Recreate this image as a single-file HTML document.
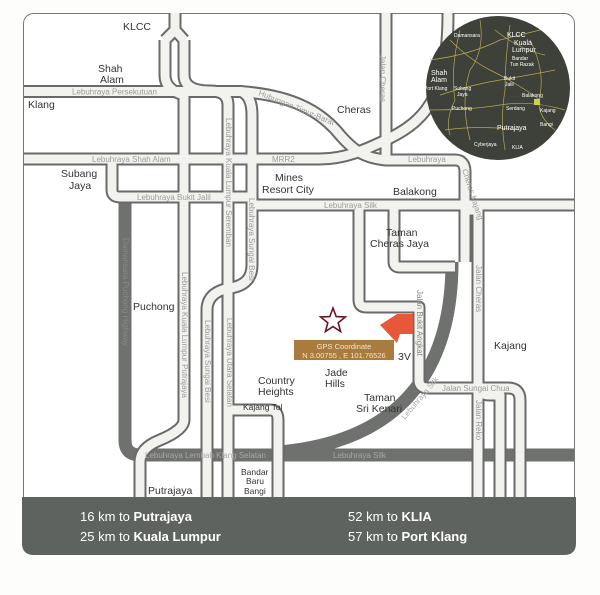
<!DOCTYPE html>
<html><head><meta charset="utf-8"><style>
html,body{margin:0;padding:0;background:#fff;}
svg{display:block;font-family:"Liberation Sans",sans-serif;}
</style></head><body>
<svg width="600" height="595" viewBox="0 0 600 595" xmlns="http://www.w3.org/2000/svg">
<rect x="0" y="0" width="600" height="595" fill="#fdfdfb"/>
<rect x="23.5" y="13.5" width="551" height="500" rx="10" fill="#fff" stroke="#777" stroke-width="1"/>

<!-- dark roads -->
<g fill="none" stroke="#6e716d" stroke-width="13">
<path d="M125,200 V440 Q125,455 140,455 H574"/>
<path d="M452,262 C452,360 410,440 280,452"/>
</g>

<!-- light roads: outline -->
<g id="roads" fill="none" stroke-linejoin="round">
<g stroke="#6a6a6a" stroke-width="13">
<path id="r1" d="M24,91.5 H240 C290,95 320,110 340,135 C355,152 365,158 386,160 H455 Q465,160 465,172 V262"/>
<path d="M24,159 H320 C345,159 365,150 390,138 C430,118 448,90 448,13"/>
<path d="M24,159 H320"/>
<path d="M112,159 V190 Q112,197 120,197 H256"/>
<path d="M248,205 H574"/>
<path d="M386,13 V160"/>
<path d="M175,13 V30 M165,40 V75 Q165,90 184,95 M184,40 V75 Q184,91 210,91 Q228,91 228,105 V497"/>
<path d="M175,30 L165,40 M175,30 L184,40"/>
<path d="M184,95 V420 Q184,430 160,440 Q140,448 140,462 V497"/>
<path d="M240,91 Q252,95 252,115 V265 Q252,285 230,288 Q207,292 207,310 V497"/>
<path d="M228,410 H270 Q278,410 278,420 V497"/>
<path d="M359,205 V300 Q359,307 366,307 H419 V380 Q419,388 428,388 H508 Q520,388 520,400 V497"/>
<path d="M394,205 V262 Q394,267 400,267 H455"/>
<path d="M465,215 Q465,210 471,210 H478 V497"/>
<path d="M478,300 V385 Q478,395 490,395 H500 V497"/>
</g>
<g stroke="#f2f2ee" stroke-width="9">
<path d="M24,91.5 H240 C290,95 320,110 340,135 C355,152 365,158 386,160 H455 Q465,160 465,172 V262"/>
<path d="M24,159 H320 C345,159 365,150 390,138 C430,118 448,90 448,13"/>
<path d="M112,159 V190 Q112,197 120,197 H256"/>
<path d="M248,205 H574"/>
<path d="M386,13 V160"/>
<path d="M175,13 V30 M165,40 V75 Q165,90 184,95 M184,40 V75 Q184,91 210,91 Q228,91 228,105 V497"/>
<path d="M175,30 L165,40 M175,30 L184,40"/>
<path d="M184,95 V420 Q184,430 160,440 Q140,448 140,462 V497"/>
<path d="M240,91 Q252,95 252,115 V265 Q252,285 230,288 Q207,292 207,310 V497"/>
<path d="M228,410 H270 Q278,410 278,420 V497"/>
<path d="M359,205 V300 Q359,307 366,307 H419 V380 Q419,388 428,388 H508 Q520,388 520,400 V497"/>
<path d="M394,205 V262 Q394,267 400,267 H455"/>
<path d="M465,215 Q465,210 471,210 H478 V497"/>
<path d="M478,300 V385 Q478,395 490,395 H500 V497"/>
</g>
</g>

<!-- road labels -->
<g fill="#9a9a9a" font-size="8">
<text x="72" y="94.5">Lebuhraya Persekutuan</text>
<text x="92" y="162">Lebuhraya Shah Alam</text>
<text x="272" y="162">MRR2</text>
<text x="137" y="200">Lebuhraya Bukit Jalil</text>
<text x="324" y="208">Lebuhraya Silk</text>
<text x="408" y="162">Lebuhraya</text>
<text x="258" y="95" transform="rotate(22 258 95)">Hubungan Timur-Barat</text>
<text x="380" y="55" transform="rotate(90 380 55)">Jalan Cheras</text>
<text x="462" y="170" transform="rotate(72 462 170)">Cheras Kajang</text>
<text x="226" y="118" transform="rotate(90 226 118)">Lebuhraya Kuala Lumpur Seremban</text>
<text x="249" y="198" transform="rotate(90 249 198)">Lebuhraya Sungai Besi</text>
<text x="182" y="272" transform="rotate(90 182 272)">Lebuhraya Kuala Lumpur Putrajaya</text>
<text x="205" y="320" transform="rotate(90 205 320)">Lebuhraya Sungai Besi</text>
<text x="227" y="318" transform="rotate(90 227 318)">Lebuhraya Utara Selatan</text>
<text x="123" y="238" transform="rotate(90 123 238)" fill="#8a8a8a">Damansara Puchong Highway</text>
<text x="417" y="290" transform="rotate(90 417 290)" fill="#888">Jalan Bukit Angkat</text>
<text x="476" y="265" transform="rotate(90 476 265)">Jalan Cheras</text>
<text x="476" y="400" transform="rotate(90 476 400)">Jalan Reko</text>
<text x="442" y="391">Jalan Sungai Chua</text>
<text x="145" y="458" fill="#a8a8a8">Lebuhraya Lembah Klang Selatan</text>
<text x="333" y="458" fill="#a8a8a8">Lebuhraya Silk</text>
<text x="405" y="420" transform="rotate(-50 405 420)" fill="#aaa">Lebuhraya Silk</text>
</g>

<!-- place labels -->
<g fill="#333" font-size="10.5">
<text x="123" y="30">KLCC</text>
<text x="98" y="72">Shah</text><text x="100" y="83">Alam</text>
<text x="28" y="108">Klang</text>
<text x="337" y="113">Cheras</text>
<text x="61" y="177">Subang</text><text x="69" y="189">Jaya</text>
<text x="275" y="181">Mines</text><text x="262" y="193">Resort City</text>
<text x="393" y="195">Balakong</text>
<text x="386" y="236">Taman</text><text x="370" y="247">Cheras Jaya</text>
<text x="133" y="310">Puchong</text>
<text x="494" y="349">Kajang</text>
<text x="398" y="360">3V</text>
<text x="325" y="376">Jade</text><text x="325" y="387">Hills</text>
<text x="258" y="384">Country</text><text x="258" y="395">Heights</text>
<text x="364" y="401">Taman</text><text x="356" y="412">Sri Kenari</text>
<text x="148" y="494">Putrajaya</text>
</g>
<g fill="#333" font-size="8.5">
<text x="243" y="410">Kajang Tol</text>
<text x="241" y="475">Bandar</text><text x="246" y="484">Baru</text><text x="244" y="494">Bangi</text>
</g>

<!-- star, arrow, GPS -->
<polygon points="333,308 336.2,316.6 345.4,317 338.2,322.8 340.6,331.6 333,326.6 325.4,331.6 327.8,322.8 320.6,317 329.8,316.6" fill="none" stroke="#6a1424" stroke-width="1.6"/>
<polygon points="380,325 397,314 413,314 413,334 400,334 397,343" fill="#e8573a"/>
<rect x="294" y="340" width="100" height="20" fill="#a97c3e"/>
<text x="344" y="349" fill="#f1e4cf" font-size="7.5" text-anchor="middle">GPS Coordinate</text>
<text x="344" y="358" fill="#f1e4cf" font-size="7.5" text-anchor="middle">N 3.00755 , E 101.76526</text>

<!-- inset circle -->
<ellipse cx="498" cy="88" rx="72" ry="72" fill="#3e4139"/>
<g fill="none" stroke="#b8a850" stroke-width="0.7">
<path d="M430,60 Q470,55 500,40 Q520,35 540,30"/>
<path d="M440,95 Q470,85 500,80 Q530,75 555,70"/>
<path d="M480,20 Q485,50 470,70 Q460,100 470,140"/>
<path d="M510,25 Q505,60 505,90 Q500,120 505,150"/>
<path d="M430,110 Q470,110 500,105 Q530,100 565,110"/>
<path d="M450,40 Q470,60 490,70 Q520,85 540,100"/>
<path d="M530,40 Q545,70 540,95 Q535,115 555,130"/>
<path d="M445,130 Q480,125 520,130"/>
<path d="M460,30 Q450,70 455,100 Q445,120 450,135"/>
<path d="M495,30 Q520,50 545,55"/>
</g>
<rect x="534" y="99" width="6" height="6" fill="#c8d44a"/>
<g fill="#fff" font-size="5">
<text x="454" y="37">Damansara</text>
<text x="507" y="37" font-size="7">KLCC</text>
<text x="514" y="45" font-size="7">Kuala</text><text x="512" y="52" font-size="7">Lumpur</text>
<text x="512" y="60">Bandar</text><text x="510" y="66">Tun Razak</text>
<text x="431" y="75" font-size="7">Shah</text><text x="431" y="82" font-size="7">Alam</text>
<text x="504" y="80">Bukit</text><text x="505" y="86">Jalil</text>
<text x="424" y="90">Port Klang</text>
<text x="454" y="90">Subang</text><text x="457" y="96">Jaya</text>
<text x="522" y="97">Balakong</text>
<text x="452" y="110">Puchong</text>
<text x="506" y="110">Serdang</text>
<text x="540" y="112">Kajang</text>
<text x="540" y="126">Bangi</text>
<text x="497" y="130" font-size="7">Putrajaya</text>
<text x="474" y="146">Cyberjaya</text>
<text x="512" y="149">KLIA</text>
</g>

<!-- bottom bar -->
<path d="M22,497 H576 V543 Q576,555 564,555 H34 Q22,555 22,543 Z" fill="#5e635f"/>
<g fill="#fff" font-size="13">
<text x="80" y="521">16 km to <tspan font-weight="bold">Putrajaya</tspan></text>
<text x="80" y="541">25 km to <tspan font-weight="bold">Kuala Lumpur</tspan></text>
<text x="348" y="521">52 km to <tspan font-weight="bold">KLIA</tspan></text>
<text x="348" y="541">57 km to <tspan font-weight="bold">Port Klang</tspan></text>
</g>
</svg>
</body></html>
